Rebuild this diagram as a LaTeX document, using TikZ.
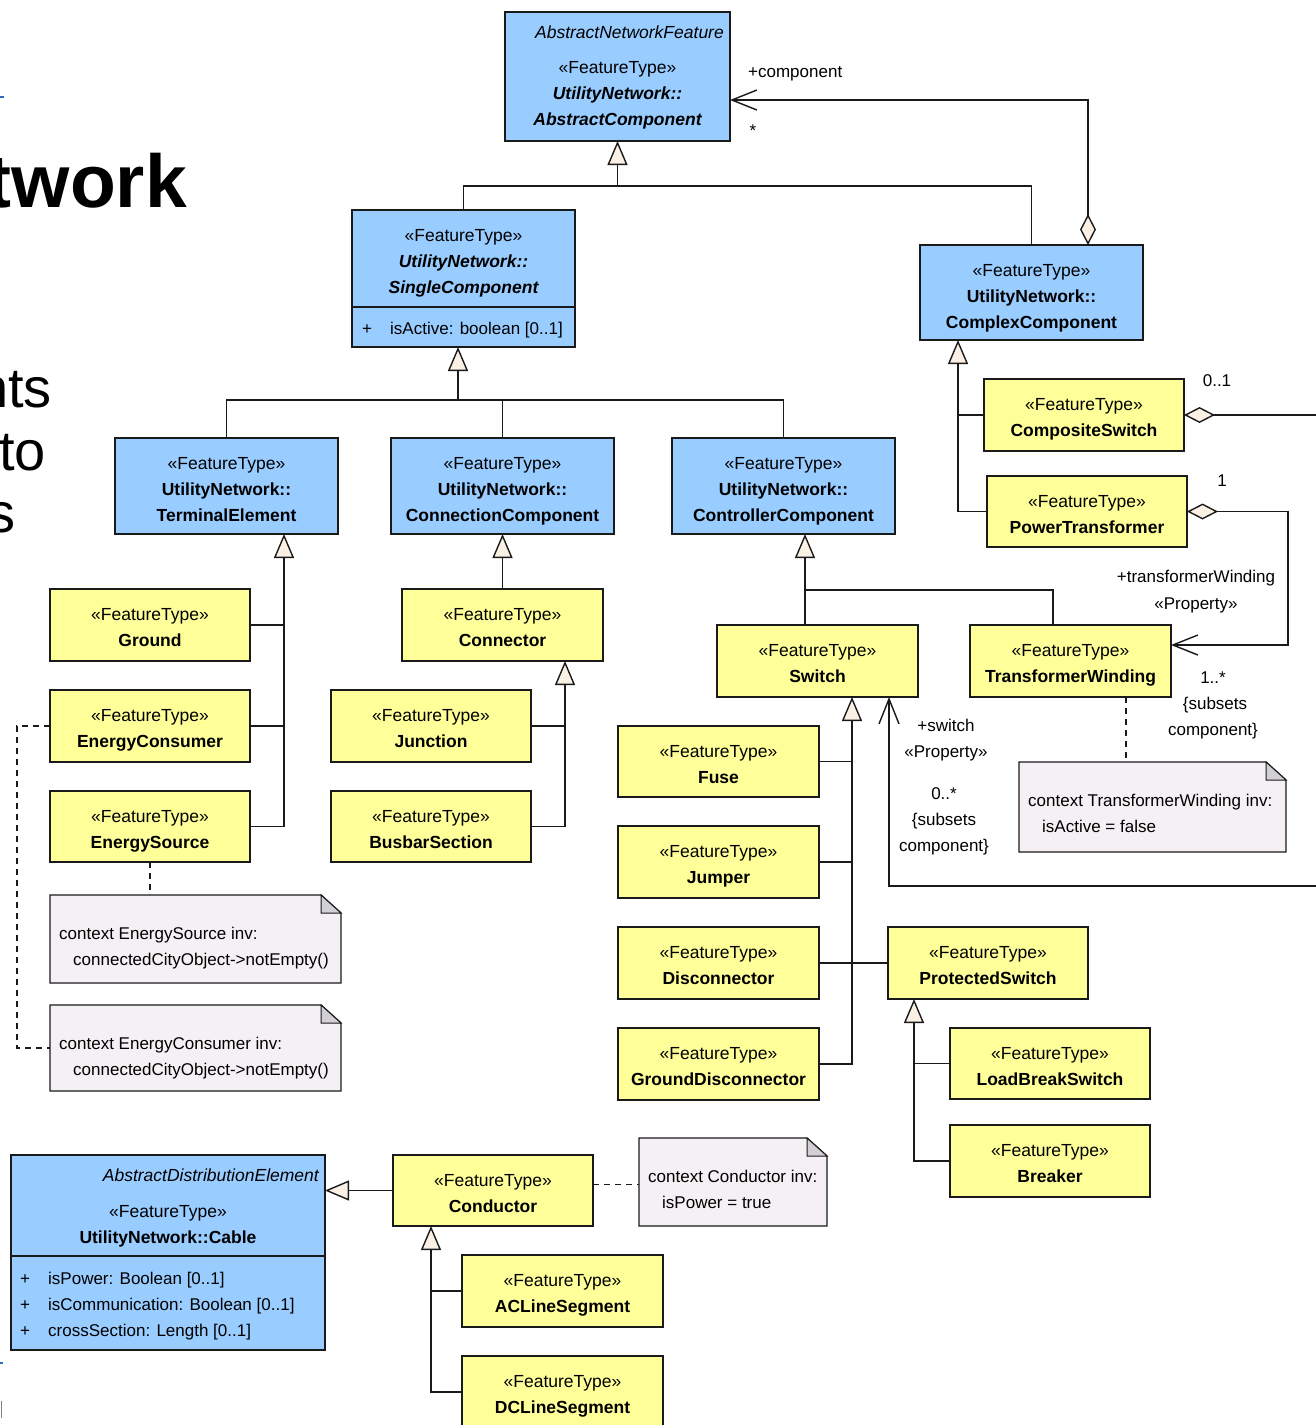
\documentclass[tikz,border=0pt]{standalone}
\usepackage{fontspec}
\setmainfont{Liberation Sans}
\usetikzlibrary{arrows.meta}
\definecolor{bluef}{HTML}{99CCFF}
\definecolor{yelf}{HTML}{FFFF99}
\definecolor{notef}{HTML}{F4F0F4}
\definecolor{foldf}{HTML}{D2D0D6}
\definecolor{trif}{HTML}{FAF0E4}
\definecolor{edge}{HTML}{1A1A1A}
\definecolor{tickb}{HTML}{2A6EBB}
\newcommand\csz{\fontsize{17.5}{21}\selectfont}
\newcommand\nsz{\fontsize{17}{21}\selectfont}
\tikzset{
 cbox/.style={draw=edge, line width=1.4pt, inner sep=0pt, outer sep=0pt, rectangle},
 ybox/.style={cbox, fill=yelf},
 bbox/.style={cbox, fill=bluef},
 nbox/.style={inner sep=0pt, outer sep=0pt, rectangle},
 ctxt/.style={anchor=base, inner sep=0pt, font=\csz},
 ntxt/.style={anchor=base west, inner sep=0pt, font=\nsz},
 lbl/.style={anchor=base, inner sep=0pt, font=\nsz},
 conn/.style={draw=edge, line width=1.4pt},
 gen/.style={conn, -{Triangle[length=24pt,width=20pt,fill=trif]}},
 nav/.style={conn, -{Straight Barb[length=25pt,width=20pt]}},
 aggnav/.style={conn, {Diamond[length=31pt,width=16pt,fill=trif]}-{Straight Barb[length=25pt,width=20pt]}},
 agg/.style={conn, {Diamond[length=31pt,width=16pt,fill=trif]}-},
 dsh/.style={draw=edge, line width=1.2pt, dash pattern=on 6pt off 5pt},
}
\newcommand\ycls[6]{%
 \node[ybox, minimum width={#4-#2}, minimum height={#5-#3}] (#1) at ({(#2+#4)/2},{(#3+#5)/2}) {};
 \node[ctxt] (#1-s) at ([yshift=-31pt]#1.north) {«FeatureType»};
 \node[ctxt, font=\csz\bfseries] (#1-n) at ([yshift=-57pt]#1.north) {#6};}
\newcommand\bcls[8]{%
 \node[bbox, minimum width={#4-#2}, minimum height={#5-#3}] (#1) at ({(#2+#4)/2},{(#3+#5)/2}) {};
 \node[ctxt] (#1-s) at ([yshift=-31pt]#1.north) {«FeatureType»};
 \node[ctxt, font=\csz#8] (#1-b) at ([yshift=-57pt]#1.north) {#6};
 \node[ctxt, font=\csz#8] (#1-c) at ([yshift=-83pt]#1.north) {#7};}
\newcommand\umlnote[7]{%
 \node[nbox, minimum width={#4-#2}, minimum height={#5-#3}] (#1) at ({(#2+#4)/2},{(#3+#5)/2}) {};
 \filldraw[conn, fill=notef] (#1.north west) -- ([xshift=-20pt]#1.north east) -- ([yshift=-18pt]#1.north east) -- (#1.south east) -- (#1.south west) -- cycle;
 \filldraw[fill=foldf, draw=edge, line width=1pt] ([xshift=-20pt]#1.north east) -- ([xshift=-20pt,yshift=-18pt]#1.north east) -- ([yshift=-18pt]#1.north east) -- cycle;
 \node[ntxt] (#1-a) at ([xshift=9pt,yshift=-44pt]#1.north west) {#6};
 \node[ntxt] (#1-b) at ([xshift=23pt,yshift=-70pt]#1.north west) {#7};}
\begin{document}
\begin{tikzpicture}[x=1pt,y=-1pt]
\useasboundingbox (0,0) rectangle (1316,1425);
\clip (0,0) rectangle (1316,1425);
\fill[white] (0,0) rectangle (1316,1425);
% slide fragments
\node[anchor=base east, inner sep=0pt, font=\fontsize{75}{80}\selectfont\bfseries] (ttl) at (187,207) {twork};
\node[anchor=base east, inner sep=0pt, font=\fontsize{56}{60}\selectfont] (tx1) at (52,407) {nts};
\node[anchor=base east, inner sep=0pt, font=\fontsize{56}{60}\selectfont] (tx2) at (46,470) {to};
\node[anchor=base east, inner sep=0pt, font=\fontsize{56}{60}\selectfont] (tx3) at (16,532) {s};
\draw[tickb, line width=1.5pt] (0,97) -- (4,97);
\draw[tickb, line width=1.5pt] (0,1363) -- (3,1363);
\draw[gray, line width=1.2pt] (1.5,1401) -- (1.5,1418);
% abstract component
\node[bbox, minimum width=225, minimum height=129] (abs) at (617.5,76.5) {};
\node[ctxt, anchor=base east, font=\csz\itshape] (abs-a) at ([xshift=-6pt,yshift=-26pt]abs.north east) {AbstractNetworkFeature};
\node[ctxt] (abs-s) at ([yshift=-61pt]abs.north) {«FeatureType»};
\node[ctxt, font=\csz\bfseries\itshape] (abs-b) at ([yshift=-87pt]abs.north) {UtilityNetwork::};
\node[ctxt, font=\csz\bfseries\itshape] (abs-c) at ([yshift=-113pt]abs.north) {AbstractComponent};
% blue classes
\bcls{single}{352}{210}{575}{347}{UtilityNetwork::}{SingleComponent}{\bfseries\itshape}
\draw[conn] ([yshift=40pt]single.south west) -- ([yshift=40pt]single.south east);
\node[ntxt] (single-p) at ([xshift=10pt,yshift=13pt]single.south west) {+};
\node[ntxt] (single-v) at ([xshift=38pt,yshift=13pt]single.south west) {isActive: boolean [0..1]};
\bcls{complex}{920}{245}{1143}{340}{UtilityNetwork::}{ComplexComponent}{\bfseries}
\bcls{term}{115}{438}{338}{534}{UtilityNetwork::}{TerminalElement}{\bfseries}
\bcls{concomp}{391}{438}{614}{534}{UtilityNetwork::}{ConnectionComponent}{\bfseries}
\bcls{ctrl}{672}{438}{895}{534}{UtilityNetwork::}{ControllerComponent}{\bfseries}
% cable
\node[bbox, minimum width=314, minimum height=195] (cable) at (168,1252.5) {};
\draw[conn] ([yshift=94pt]cable.south west) -- ([yshift=94pt]cable.south east);
\node[ctxt, anchor=base east, font=\csz\itshape] (cable-a) at ([xshift=-6pt,yshift=-26pt]cable.north east) {AbstractDistributionElement};
\node[ctxt] (cable-s) at ([yshift=-62pt]cable.north) {«FeatureType»};
\node[ctxt, font=\csz\bfseries] (cable-n) at ([yshift=-88pt]cable.north) {UtilityNetwork::Cable};
\node[ntxt] (cable-p1) at ([xshift=9pt,yshift=66pt]cable.south west) {+};
\node[ntxt] (cable-v1) at ([xshift=37pt,yshift=66pt]cable.south west) {isPower: Boolean [0..1]};
\node[ntxt] (cable-p2) at ([xshift=9pt,yshift=40pt]cable.south west) {+};
\node[ntxt] (cable-v2) at ([xshift=37pt,yshift=40pt]cable.south west) {isCommunication: Boolean [0..1]};
\node[ntxt] (cable-p3) at ([xshift=9pt,yshift=14pt]cable.south west) {+};
\node[ntxt] (cable-v3) at ([xshift=37pt,yshift=14pt]cable.south west) {crossSection: Length [0..1]};
% yellow classes
\ycls{ground}{50}{589}{250}{661}{Ground}
\ycls{econs}{50}{690}{250}{762}{EnergyConsumer}
\ycls{esrc}{50}{791}{250}{862}{EnergySource}
\ycls{connector}{402}{589}{603}{661}{Connector}
\ycls{junction}{331}{690}{531}{762}{Junction}
\ycls{busbar}{331}{791}{531}{862}{BusbarSection}
\ycls{switch}{717}{625}{918}{697}{Switch}
\ycls{twind}{970}{625}{1171}{697}{TransformerWinding}
\ycls{cswitch}{984}{379}{1184}{451}{CompositeSwitch}
\ycls{ptrans}{987}{476}{1187}{547}{PowerTransformer}
\ycls{fuse}{618}{726}{819}{797}{Fuse}
\ycls{jumper}{618}{826}{819}{898}{Jumper}
\ycls{disc}{618}{927}{819}{999}{Disconnector}
\ycls{gdisc}{618}{1028}{819}{1100}{GroundDisconnector}
\ycls{pswitch}{888}{927}{1088}{999}{ProtectedSwitch}
\ycls{lbs}{950}{1028}{1150}{1099}{LoadBreakSwitch}
\ycls{breaker}{950}{1125}{1150}{1197}{Breaker}
\ycls{conductor}{393}{1155}{593}{1226}{Conductor}
\ycls{acls}{462}{1255}{663}{1327}{ACLineSegment}
\ycls{dcls}{462}{1356}{663}{1428}{DCLineSegment}
% notes
\umlnote{nsrc}{50}{895}{341}{983}{context EnergySource inv:}{connectedCityObject->notEmpty()}
\umlnote{ncons}{50}{1005}{341}{1091}{context EnergyConsumer inv:}{connectedCityObject->notEmpty()}
\umlnote{ntw}{1019}{762}{1286}{852}{context TransformerWinding inv:}{isActive = false}
\umlnote{ncond}{639}{1138}{827}{1226}{context Conductor inv:}{isPower = true}
% generalizations
\coordinate (j1) at (617.5,186);
\draw[gen] (single.north) |- (j1) -- (abs.south);
\draw[conn] (complex.north) |- (j1);
\coordinate (sT0) at ([xshift=-5.5pt]single.south);
\coordinate (j2) at (458,400);
\draw[gen] (term.north) |- (j2) -- (sT0);
\draw[conn] (concomp.north) |- (j2);
\draw[conn] (ctrl.north) |- (j2);
\coordinate (tT) at ([xshift=57.5pt]term.south);
\draw[gen] (esrc.east) -| (tT);
\draw[conn] (ground.east) -- (ground.east -| tT);
\draw[conn] (econs.east) -- (econs.east -| tT);
\draw[gen] (connector.north) -- (concomp.south);
\coordinate (cT) at ([xshift=62.5pt]connector.south);
\draw[gen] (busbar.east) -| (cT);
\draw[conn] (junction.east) -- (junction.east -| cT);
\coordinate (kT) at ([xshift=21.5pt]ctrl.south);
\coordinate (kJ) at ([yshift=-56pt]kT);
\coordinate (twn) at ([xshift=-17.5pt]twind.north);
\draw[gen] (switch.north -| kT) -- (kT);
\draw[conn] (twn) |- (kJ);
\coordinate (xT) at ([xshift=-73.5pt]complex.south);
\draw[gen] (ptrans.west) -| (xT);
\draw[conn] (cswitch.west) -- (cswitch.west -| xT);
\coordinate (sT) at ([xshift=34.5pt]switch.south);
\draw[gen] (gdisc.east) -| (sT);
\draw[conn] (fuse.east) -- (fuse.east -| sT);
\draw[conn] (jumper.east) -- (jumper.east -| sT);
\draw[conn] (disc.east) -- (pswitch.west);
\coordinate (pT) at ([xshift=-74pt]pswitch.south);
\draw[gen] (breaker.west) -| (pT);
\draw[conn] (lbs.west) -- (lbs.west -| pT);
\draw[gen] (conductor.west) -- (conductor.west -| cable.east);
\coordinate (qT) at ([xshift=-62pt]conductor.south);
\draw[gen] (dcls.west) -| (qT);
\draw[conn] (acls.west) -- (acls.west -| qT);
% associations
\coordinate (aggA) at ([xshift=56.5pt]complex.north);
\coordinate (absR) at ([yshift=-23.5pt]abs.east);
\draw[aggnav] (aggA) |- (absR);
\coordinate (rA) at (1330,0);
\draw[agg] (cswitch.east) -- (cswitch.east -| rA);
\coordinate (pc) at (1288,0);
\coordinate (twe) at ([yshift=16pt]twind.east);
\draw[aggnav] (ptrans.east) -- (ptrans.east -| pc) |- (twe);
\coordinate (sw) at ([xshift=71.5pt]switch.south);
\coordinate (rB) at (1330,886);
\draw[nav] (rB) -| (sw);
% dashed anchors
\draw[dsh] (esrc.south) -- (esrc.south |- nsrc.north);
\draw[dsh] (econs.west) -- ++(-33,0) |- (ncons.west);
\coordinate (twd) at ([xshift=55.5pt]twind.south);
\draw[dsh] (twd) -- (twd |- ntw.north);
\coordinate (cdd) at ([yshift=6pt]conductor.east);
\draw[dsh] (cdd) -- (cdd -| ncond.west);
% labels
\node[lbl, anchor=base west] (l-comp) at (748,77) {+component};
\node[lbl] (l-star) at (753,136) {*};
\node[lbl] (l-01) at (1217,386) {0..1};
\node[lbl] (l-1) at (1222,486) {1};
\node[lbl] (l-tw1) at (1196,582) {+transformerWinding};
\node[lbl] (l-tw2) at (1196,609) {«Property»};
\node[lbl] (l-tw3) at (1213,683) {1..*};
\node[lbl] (l-tw4) at (1215,709) {\{subsets};
\node[lbl] (l-tw5) at (1213,735) {component\}};
\node[lbl] (l-sw1) at (946,731) {+switch};
\node[lbl] (l-sw2) at (946,757) {«Property»};
\node[lbl] (l-sw3) at (944,799) {0..*};
\node[lbl] (l-sw4) at (944,825) {\{subsets};
\node[lbl] (l-sw5) at (944,851) {component\}};
\end{tikzpicture}
\end{document}
